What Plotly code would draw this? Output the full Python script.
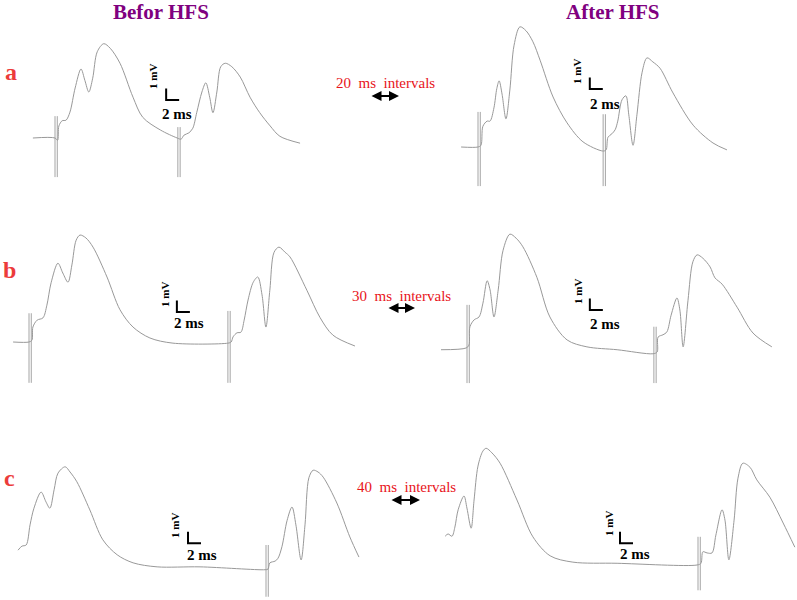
import plotly.graph_objects as go

W, H = 797, 600
PX_PER_MS = 6.5    # scale bar: 2 ms ~ 13 px
PX_PER_MV = 11.5   # scale bar: 1 mV ~ 11.5 px
BAR_MS = 2
BAR_MV = 1

# time in ms from first stimulus, voltage in mV from baseline
# row a, 20 ms interval
a_before_t = [-3.4, 0.0, 0.4, 0.6, 1.1, 1.7, 2.3, 3.1, 4.0, 4.6, 5.2, 5.8, 6.5, 7.5, 8.5, 10.0, 12.0, 13.5, 16.2, 18.8,
              19.4, 19.85, 20.6, 21.2, 21.8, 22.6, 23.2, 23.8, 24.3, 24.9, 25.5, 26.2, 27.2, 28.5, 30.0, 31.5, 33.1, 34.6, 37.7]
a_before_v = [0, 0, -0.2, 1.05, 1.5, 1.55, 2.25, 4.35, 6.0, 5.0, 4.0, 5.2, 7.5, 8.2, 7.8, 6.5, 3.55, 1.8, 0.7, 0.0,
              -0.1, 0.25, 0.45, 0.85, 2.2, 4.0, 4.8, 3.55, 2.2, 4.0, 6.2, 6.5, 6.2, 5.3, 3.55, 2.2, 1.05, 0.15, -0.45]
a_before_stim = [0.0, 18.9]
a_before_top = [1.9, 0.95]
a_before_bot = [-3.4, -3.4]

a_after_t = [-2.6, 0.0, 0.45, 0.75, 1.4, 1.85, 2.45, 2.9, 3.25, 3.7, 4.3, 4.9, 5.55, 6.45, 7.4, 8.45, 9.55, 11.55, 13.7, 16.15, 19.2,
             19.7, 20.0, 20.6, 21.1, 21.5, 22.15, 22.75, 23.2, 23.85, 24.45, 25.25, 26.0, 26.9, 28.0, 30.0, 33.1, 36.15, 38.3]
a_after_v = [0, 0, 0.15, 1.8, 2.25, 2.25, 3.4, 5.1, 5.75, 4.6, 2.45, 4.95, 8.85, 10.45, 10.1, 9.15, 7.55, 4.35, 2.1, 0.45, -0.35,
             -0.25, 0.85, 1.15, 1.5, 2.25, 4.1, 4.45, 2.8, 0.15, 2.8, 6.5, 7.75, 7.4, 6.85, 4.7, 1.9, 0.35, -0.25]
a_after_stim = [0.0, 19.25]
a_after_top = [3.05, 2.85]
a_after_bot = [-3.4, -3.4]

# row b, 30 ms interval
b_before_t = [-2.45, 0.0, 0.45, 0.6, 1.25, 2.15, 2.75, 3.4, 4.45, 5.2, 6.0, 6.6, 7.25, 7.85, 8.75, 9.85, 12.0, 14.0, 16.0, 18.6, 22.15, 30.6,
              31.1, 31.4, 32.0, 32.6, 33.1, 33.7, 34.5, 35.2, 35.85, 36.45, 37.05, 37.7, 38.45, 39.4, 40.15, 42.75, 44.75, 46.75, 50.15]
b_before_v = [0, 0, 0.15, 1.3, 1.9, 2.1, 3.2, 5.15, 6.85, 6.0, 5.2, 6.7, 8.85, 9.3, 9.05, 8.25, 5.65, 2.8, 1.3, 0.35, -0.1, -0.1,
              0, 0.45, 0.8, 0.85, 1.9, 3.65, 5.2, 5.65, 4.1, 1.3, 4.5, 7.8, 8.25, 7.8, 7.4, 4.5, 2.15, 0.6, -0.35]
b_before_stim = [0.0, 30.6]
b_before_top = [2.5, 2.7]
b_before_bot = [-3.55, -3.55]

b_after_t = [-4.0, -0.15, 0.3, 0.45, 1.1, 1.85, 2.45, 3.1, 3.55, 4.15, 4.8, 5.55, 6.6, 7.55, 8.6, 10.75, 12.75, 15.4, 18.45, 23.1, 28.6,
             29.25, 29.4, 30.15, 30.75, 31.4, 32.3, 32.75, 33.25, 34.0, 34.75, 35.4, 36.3, 37.4, 38.15, 39.25, 41.55, 44.0, 46.9]
b_after_v = [-0.15, 0, 0.25, 1.85, 2.45, 2.7, 3.9, 5.85, 5.05, 2.7, 5.05, 8.5, 9.9, 9.55, 8.8, 6.15, 2.7, 0.7, 0.1, -0.15, -0.5,
             -0.35, 0.95, 1.15, 1.4, 2.85, 4.35, 3.3, 0.1, 4.15, 7.5, 8.1, 7.8, 7.05, 6.1, 5.55, 3.55, 1.3, 0.1]
b_after_stim = [0.0, 28.75]
b_after_top = [3.75, 1.85]
b_after_bot = [-3.05, -3.05]

# row c, 40 ms interval (first stimulus is outside the frame)
c_before_t = [1.85, 2.45, 3.1, 3.7, 4.3, 5.4, 6.15, 6.75, 7.4, 8.0, 9.1, 9.85, 10.9, 12.9, 14.9, 17.1, 19.55, 23.25, 29.85, 39.85,
              40.3, 40.6, 41.4, 41.85, 42.45, 43.25, 44.0, 44.6, 45.4, 46.0, 46.6, 47.25, 48.0, 48.8, 50.9, 52.9, 54.3]
c_before_v = [1.55, 1.9, 2.0, 3.75, 5.2, 6.6, 5.75, 5.2, 6.8, 8.25, 8.8, 8.35, 7.5, 5.05, 2.45, 1.15, 0.45, 0.1, 0.1, -0.15,
              -0.1, 0.45, 0.6, 0.85, 1.85, 4.15, 5.3, 3.75, 0.7, 3.75, 7.85, 8.5, 8.35, 7.9, 5.65, 2.7, 0.95]
c_before_stim = [40.0]
c_before_top = [2.0]
c_before_bot = [-2.5]

c_after_t = [1.1, 1.55, 2.15, 2.6, 3.1, 4.0, 4.45, 5.1, 5.55, 6.15, 6.9, 7.4, 8.3, 9.55, 12.15, 14.6, 17.25, 20.75, 27.55, 39.85,
             40.45, 40.75, 41.4, 42.15, 42.75, 43.7, 44.15, 44.75, 45.55, 46.15, 46.9, 48.0, 49.05, 51.05, 53.1, 54.9]
c_after_v = [2.5, 2.7, 2.5, 3.3, 4.8, 6.0, 4.95, 3.2, 5.65, 8.6, 9.9, 10.15, 9.75, 8.85, 5.65, 2.45, 0.8, 0.25, 0.15, 0,
             0.15, 1.15, 1.05, 1.05, 2.6, 4.8, 3.9, 0.45, 3.9, 7.55, 8.85, 8.5, 7.4, 5.9, 3.65, 1.55]
c_after_stim = [40.0]
c_after_top = [2.45]
c_after_bot = [-2.2]

# scale bar corner (ms, mV) in each panel
bars = [(17.1, 3.3), (17.2, 5.05), (22.75, 2.6), (18.9, 3.3), (28.0, 2.15), (28.0, 1.9)]

row_letters = ['a', 'b', 'c']
headers = ['Befor HFS', 'After HFS']
intervals = ['20', '30', '40']

# panel layout: origin pixel (first stimulus, baseline) and box in pixels
panels = [
    dict(t=a_before_t, v=a_before_v, s=a_before_stim, top=a_before_top, bot=a_before_bot, o=(55, 138), box=(0, 398, 20, 200)),
    dict(t=a_after_t, v=a_after_v, s=a_after_stim, top=a_after_top, bot=a_after_bot, o=(478, 147), box=(398, 797, 20, 200)),
    dict(t=b_before_t, v=b_before_v, s=b_before_stim, top=b_before_top, bot=b_before_bot, o=(29, 342), box=(0, 398, 205, 395)),
    dict(t=b_after_t, v=b_after_v, s=b_after_stim, top=b_after_top, bot=b_after_bot, o=(467, 348), box=(398, 797, 205, 395)),
    dict(t=c_before_t, v=c_before_v, s=c_before_stim, top=c_before_top, bot=c_before_bot, o=(6, 568), box=(0, 398, 398, 600)),
    dict(t=c_after_t, v=c_after_v, s=c_after_stim, top=c_after_top, bot=c_after_bot, o=(438, 565), box=(398, 797, 398, 600)),
]

mv_label_pos = [(153, 77), (577, 72), (165, 295), (578, 292), (175, 526), (609, 524)]
ms_label_pos = [(177, 114), (605, 104), (189, 323), (605, 324), (202, 555), (635, 554)]
letter_pos = [(11, 72), (9, 270), (9, 478)]
interval_pos = [(385, 83), (402, 296), (407, 487)]
arrow_pos = [(370, 399, 96), (387, 415, 308), (390, 420, 500)]


def fx(x):
    return x / W


def fy(y):
    return 1 - y / H


fig = go.Figure()
layout = {}
annots = []

for i, p in enumerate(panels):
    n = i + 1
    xa, ya = ('x', 'y') if n == 1 else (f'x{n}', f'y{n}')
    ox, oy = p['o']
    x0, x1, y0, y1 = p['box']
    layout['xaxis' if n == 1 else f'xaxis{n}'] = dict(
        domain=[fx(x0), fx(x1)], range=[(x0 - ox) / PX_PER_MS, (x1 - ox) / PX_PER_MS],
        visible=False, anchor=ya)
    layout['yaxis' if n == 1 else f'yaxis{n}'] = dict(
        domain=[fy(y1), fy(y0)], range=[(oy - y1) / PX_PER_MV, (oy - y0) / PX_PER_MV],
        visible=False, anchor=xa)

    # field potential
    fig.add_trace(go.Scatter(x=p['t'], y=p['v'], mode='lines', xaxis=xa, yaxis=ya,
                             line=dict(color='#999999', width=1, shape='spline', smoothing=0.9),
                             hoverinfo='skip'))
    # stimulus artifacts (double line)
    sx, sy = [], []
    for s, tp, bt in zip(p['s'], p['top'], p['bot']):
        sx += [s, s, None, s + 0.35, s + 0.35, None]
        sy += [tp, bt, None, tp, bt, None]
    fig.add_trace(go.Scatter(x=sx, y=sy, mode='lines', xaxis=xa, yaxis=ya,
                             line=dict(color='#9a9a9a', width=0.9), hoverinfo='skip'))
    # scale bar
    bx, by = bars[i]
    fig.add_trace(go.Scatter(x=[bx, bx, bx + BAR_MS], y=[by + BAR_MV, by, by], mode='lines',
                             xaxis=xa, yaxis=ya, line=dict(color='black', width=2), hoverinfo='skip'))

    annots.append(dict(text='<b>1 mV</b>', x=fx(mv_label_pos[i][0]), y=fy(mv_label_pos[i][1]),
                       textangle=-90, font=dict(size=11, family='Liberation Serif', color='black')))
    annots.append(dict(text='<b>2 ms</b>', x=fx(ms_label_pos[i][0]), y=fy(ms_label_pos[i][1]),
                       font=dict(size=15, family='Liberation Serif', color='black')))

for letter, (x, y) in zip(row_letters, letter_pos):
    annots.append(dict(text=f'<b>{letter}</b>', x=fx(x), y=fy(y),
                       font=dict(size=24, family='Liberation Serif', color='#ec3b3b')))

for txt, x in zip(headers, [161, 613]):
    annots.append(dict(text=f'<b>{txt}</b>', x=fx(x), y=fy(12),
                       font=dict(size=21, family='Liberation Serif', color='#800080')))

for ms, (x, y) in zip(intervals, interval_pos):
    annots.append(dict(text=f'{ms}\u00a0 ms\u00a0 intervals', x=fx(x), y=fy(y),
                       font=dict(size=15, family='Liberation Serif', color='#e8141a')))

for (xl, xr, y) in arrow_pos:
    annots.append(dict(text='', x=fx(xr), y=fy(y), ax=xl - xr, ay=0,
                       showarrow=True, arrowhead=2, arrowside='end+start', arrowsize=1,
                       arrowwidth=2, arrowcolor='black'))

for a in annots:
    a.setdefault('showarrow', False)
    a.update(xref='paper', yref='paper', xanchor='center', yanchor='middle')

fig.update_layout(width=W, height=H, margin=dict(l=0, r=0, t=0, b=0),
                  plot_bgcolor='white', paper_bgcolor='white', showlegend=False,
                  annotations=annots, **layout)

# page body has a default 8px margin; drop it so the figure sits at the window corner
fig.write_html("out.html", config={'displayModeBar': False},
               post_script="document.body.style.margin='0px';")
